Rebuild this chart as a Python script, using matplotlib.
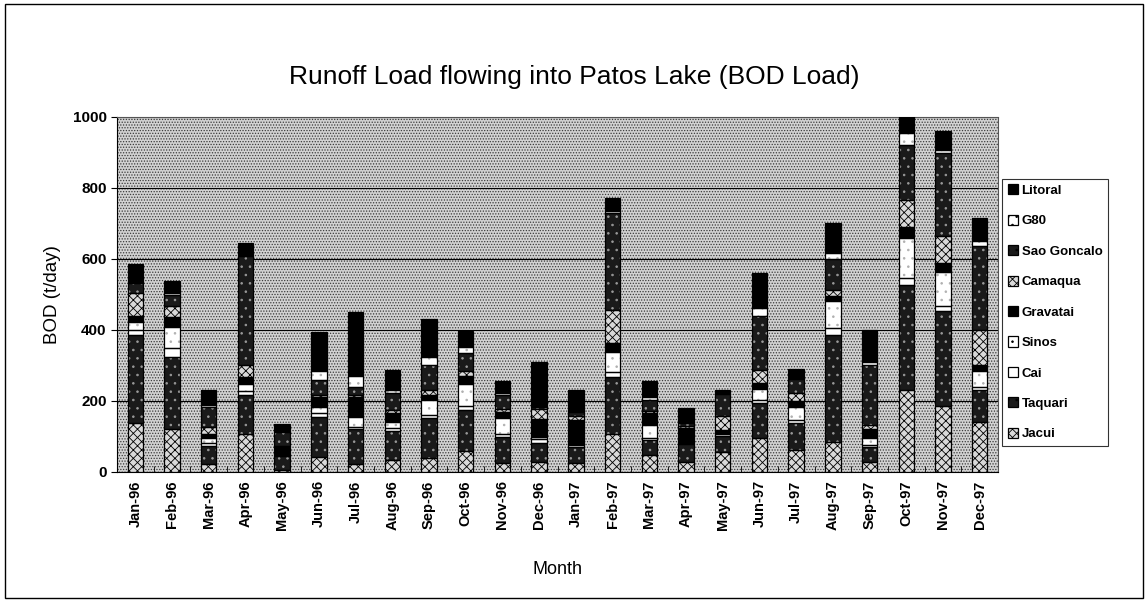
import numpy as np
import matplotlib
matplotlib.use("Agg")
import matplotlib.pyplot as plt
from matplotlib.patches import Rectangle, Patch

# Months on the x axis
months = ["Jan-96", "Feb-96", "Mar-96", "Apr-96", "May-96", "Jun-96",
          "Jul-96", "Aug-96", "Sep-96", "Oct-96", "Nov-96", "Dec-96",
          "Jan-97", "Feb-97", "Mar-97", "Apr-97", "May-97", "Jun-97",
          "Jul-97", "Aug-97", "Sep-97", "Oct-97", "Nov-97", "Dec-97"]

# BOD load per basin (t/day), stacked bottom to top
jacui = [137, 120, 22, 107, 5, 43, 22, 34, 39, 60, 26, 29,
         24, 107, 48, 29, 57, 95, 62, 83, 29, 231, 186, 142]
taquari = [250, 205, 50, 110, 40, 113, 98, 81, 112, 115, 73, 52,
           47, 161, 42, 50, 45, 98, 75, 303, 40, 296, 266, 89]
cai = [12, 23, 10, 10, 2, 9, 6, 10, 8, 11, 9, 12,
       6, 14, 7, 3, 4, 9, 8, 20, 8, 19, 15, 9]
sinos = [22, 61, 14, 20, 3, 17, 28, 17, 45, 62, 43, 5,
         3, 55, 35, 3, 5, 32, 38, 75, 20, 112, 97, 43]
gravatai = [18, 28, 10, 20, 20, 28, 56, 23, 14, 22, 19, 52,
            66, 25, 35, 40, 7, 16, 18, 15, 25, 33, 23, 17]
camaqua = [65, 29, 20, 35, 3, 8, 8, 10, 14, 15, 8, 28,
           12, 94, 5, 5, 40, 38, 20, 15, 10, 75, 76, 100]
sao_goncalo = [28, 33, 58, 306, 40, 41, 22, 47, 68, 50, 38, 5,
               10, 273, 31, 7, 62, 150, 40, 90, 168, 155, 235, 235]
g80 = [4, 5, 4, 3, 2, 26, 30, 10, 25, 16, 6, 3,
       3, 6, 7, 5, 3, 24, 3, 15, 10, 33, 9, 16]
litoral = [50, 35, 43, 33, 19, 110, 180, 55, 105, 47, 35, 125,
           60, 36, 47, 37, 8, 98, 25, 84, 90, 56, 52, 64]

series = [
    ("Jacui", jacui, "#d9d9d9", "black", "xxxx"),
    ("Taquari", taquari, "#1a1a1a", "#9a9a9a", ".."),
    ("Cai", cai, "white", "white", None),
    ("Sinos", sinos, "white", "#b0b0b0", ".."),
    ("Gravatai", gravatai, "black", "black", None),
    ("Camaqua", camaqua, "#d9d9d9", "black", "xxxx"),
    ("Sao Goncalo", sao_goncalo, "#1a1a1a", "#9a9a9a", ".."),
    ("G80", g80, "white", "#b0b0b0", ".."),
    ("Litoral", litoral, "black", "black", None),
]

plt.rcParams["font.family"] = ["Liberation Sans", "DejaVu Sans"]
plt.rcParams["hatch.linewidth"] = 0.6

fig = plt.figure(figsize=(11.48, 6.02), dpi=100)
ax = fig.add_axes([0.1019, 0.216, 0.7675, 0.590])

# stippled grey plot background
ax.set_facecolor("#c4c4c4")
ax.add_patch(Rectangle((0, 0), 1, 1, transform=ax.transAxes, facecolor="#d2d2d2",
                       edgecolor="#3a3a3a", hatch="......", linewidth=0, zorder=0))

x = np.arange(len(months))
width = 0.42
bottom = np.zeros(len(months))
handles = []
for name, vals, face, hcol, hatch in series:
    vals = np.array(vals, dtype=float)
    ax.bar(x, vals, width, bottom=bottom, color=face, edgecolor=hcol,
           hatch=hatch, linewidth=0, zorder=3)
    ax.bar(x, vals, width, bottom=bottom, fill=False, edgecolor="black",
           linewidth=0.9, zorder=4)
    handles.append(Patch(facecolor=face, edgecolor="black", hatch=hatch,
                         linewidth=0.9, label=name))
    bottom += vals

ax.set_ylim(0, 1000)
ax.set_xlim(-0.5, len(months) - 0.5)
ax.set_yticks([0, 200, 400, 600, 800, 1000])
ax.yaxis.grid(True, color="black", linewidth=0.8, zorder=1)
ax.set_axisbelow(True)

ax.set_xticks(x)
ax.set_xticklabels(months, rotation=90, fontsize=10.5, fontweight="bold")
ax.set_xticks(np.arange(-0.5, len(months)), minor=True)
ax.tick_params(axis="x", which="major", length=0, pad=6)
ax.tick_params(axis="x", which="minor", length=4, direction="in")
ax.tick_params(axis="y", length=4, labelsize=11)
for lbl in ax.get_yticklabels():
    lbl.set_fontweight("bold")

for side in ["top", "right"]:
    ax.spines[side].set_linestyle((0, (1, 1)))
    ax.spines[side].set_color("#555555")

ax.set_xlabel("Month", fontsize=13, labelpad=22)
ax.set_ylabel("BOD (t/day)", fontsize=13.5, labelpad=8)
fig.text(0.5, 0.872, "Runoff Load flowing into Patos Lake (BOD Load)",
         ha="center", va="center", fontsize=19)

leg = ax.legend(handles=handles[::-1], loc="upper left",
                bbox_to_anchor=(1.005, 0.825), frameon=True, fancybox=False,
                edgecolor="black",
                prop={"size": 9.5, "weight": "bold"}, handlelength=0.8,
                handleheight=0.8, handletextpad=0.25, labelspacing=1.35,
                borderpad=0.4, borderaxespad=0)
leg.get_frame().set_linewidth(0.8)

# outer chart border
fig.patches.append(Rectangle((0.004, 0.006), 0.992, 0.988, transform=fig.transFigure,
                             fill=False, edgecolor="black", linewidth=1.0))

fig.savefig("out.png", dpi=100)
